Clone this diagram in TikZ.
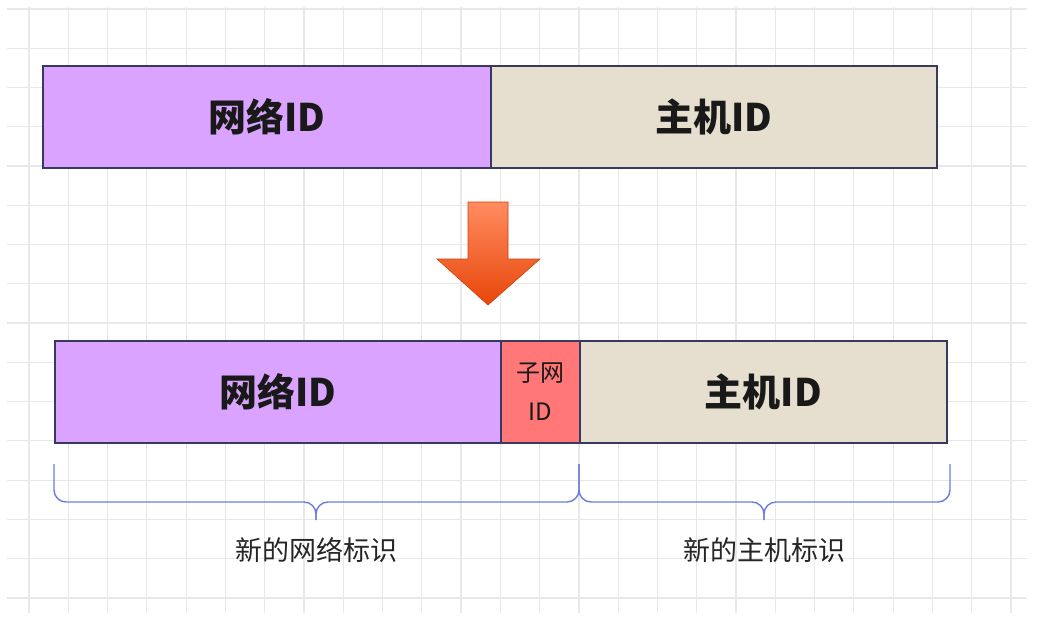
\documentclass[tikz,border=0pt]{standalone}
\usepackage{fontspec}
\setmainfont{Noto Sans CJK SC}
\usetikzlibrary{positioning, calc}
\definecolor{gridgray}{RGB}{232, 232, 232}
\definecolor{netpurple}{RGB}{218, 163, 255}
\definecolor{hostbeige}{RGB}{230, 223, 208}
\definecolor{subnetred}{RGB}{255, 119, 119}
\definecolor{boxline}{RGB}{55, 57, 95}
\definecolor{bracecol}{RGB}{110, 126, 216}
\definecolor{arrowtop}{RGB}{255, 140, 95}
\definecolor{arrowbot}{RGB}{232, 70, 10}

\begin{document}
\begin{tikzpicture}[
    x=1pt, y=-1pt,
    field/.style={rectangle, draw=boxline, line width=1.7pt, anchor=north west,
                  inner sep=0pt, align=center, text=black!90},
    bigtext/.style={font=\fontsize{38}{40}\selectfont\bfseries},
    brace/.style={draw=bracecol, line width=1.4pt, rounded corners=12pt},
    tag/.style={font=\fontsize{27}{30}\selectfont, text=black!85},
]
\useasboundingbox (0,0) rectangle (1047,632);
\fill[white] (0,0) rectangle (1047,632);

% Grid
\foreach \gx in {0,...,25}
    \draw[gridgray, line width=1.2pt] ({29+39.28*\gx},7) -- ({29+39.28*\gx},613);
\foreach \gy in {0,...,15}
    \draw[gridgray, line width=1.2pt] (7,{9+39.26*\gy}) -- (1027,{9+39.26*\gy});

% Original address
\node[field, bigtext, fill=netpurple, minimum width=448pt, minimum height=102pt]
    (net) at (42,65) {网络ID};
\node[field, bigtext, fill=hostbeige, minimum width=446pt, minimum height=102pt]
    (host) at (490,65) {主机ID};

% Arrow
\shade[top color=arrowtop, bottom color=arrowbot, draw=arrowbot!90!black, line width=0.6pt]
    (468,202) -- (508,202) -- (508,259) -- (540,259) -- (488,305)
    -- (437,259) -- (468,259) -- cycle;

% Subnetted address
\node[field, bigtext, fill=netpurple, minimum width=446pt, minimum height=102pt]
    (net2) at (54,340) {网络ID};
\node[field, fill=subnetred, minimum width=79pt, minimum height=102pt,
      font=\fontsize{24}{39}\selectfont]
    (subnet) at (500,340) {子网\\ID};
\node[field, bigtext, fill=hostbeige, minimum width=367pt, minimum height=102pt]
    (host2) at (579,340) {主机ID};

% Braces
\coordinate (nettip) at (316,520);
\coordinate (hosttip) at (764,520);
\draw[brace] (54,464) -- (54,502) -- (nettip |- 0,502) -- (nettip);
\draw[brace] (579,464) -- (579,502) -- (nettip |- 0,502) -- (nettip);
\draw[brace] (579,464) -- (579,502) -- (hosttip |- 0,502) -- (hosttip);
\draw[brace] (950,464) -- (950,502) -- (hosttip |- 0,502) -- (hosttip);

% Labels
\node[tag, below=14pt of nettip] (netlabel) {新的网络标识};
\node[tag, below=14pt of hosttip] (hostlabel) {新的主机标识};

\end{tikzpicture}
\end{document}
